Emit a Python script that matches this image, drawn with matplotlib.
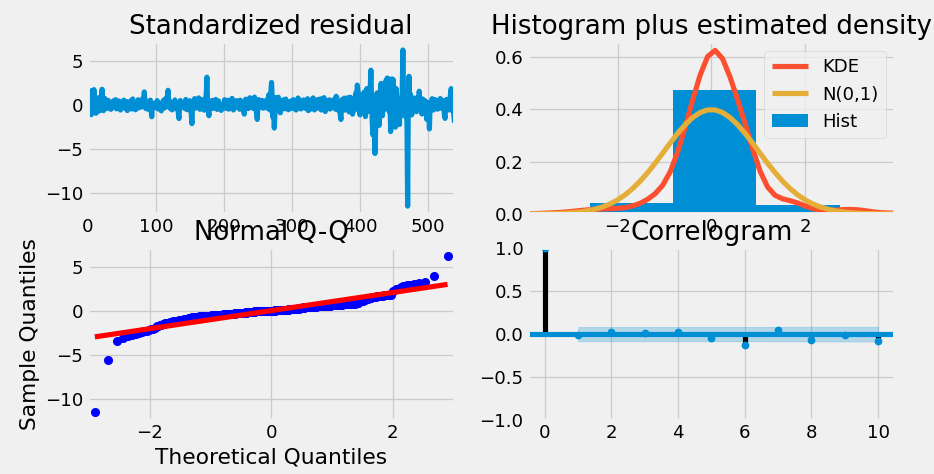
import numpy as np
import matplotlib
matplotlib.use("Agg")
import matplotlib.pyplot as plt
from statistics import NormalDist

# standardized residuals (index 0..539)
std_resid = [
    0.62, -1.02, 1.45, -0.35, 0.18, -1.08, 1.68, 0.41, -0.58, 1.78, -0.12, 0.47, -0.92, 0.85, 0.05, -0.44, 0.71, -0.66, 0.93, 0.08,
    -0.31, 1.82, 0.06, -0.62, 0.14, 0.78, -0.09, 0.05, -0.38, 0.02, 0.56, -0.18, 0.27, 0.11, -0.47, 0.33, 0.21, -0.06, 0.52, -0.24,
    0.15, 0.64, -0.41, 0.07, -0.01, -0.21, 0.48, -0.03, -0.55, 0.19, 0.08, -0.14, 0.04, 0.59, -0.33, 0.12, -0.08, 0.42, -0.61, 0.23,
    0.01, -0.12, 0.06, 0.51, -0.44, 0.17, 0.72, -0.26, -0.02, 0.09, -0.52, 0.22, 0.09, -0.35, 0.63, 0.13, -0.05, 0.04, -0.23, 0.46,
    0.08, 0.81, -0.15, 1.52, 0.24, -0.37, 0.49, -0.01, -0.46, 0.02, 0.16, -0.22, 0.58, -0.57, -1.31, 0.26, 0.03, -0.11, 0.03, 0.05,
    -0.27, 0.14, 0.53, -0.43, 0.06, 0.25, -0.16, -0.04, -0.64, 0.00, -0.04, 0.55, -0.34, 0.10, 0.74, -0.20, 0.10, 1.12, 1.71, 0.18,
    0.50, -0.36, 0.23, 0.02, -0.53, 0.01, 0.12, -0.25, 0.61, -0.07, 0.02, -0.45, 0.16, -0.88, -1.52, 0.28, 0.54, -0.13, 0.07, -0.03,
    -0.24, 0.03, 0.15, -0.39, 0.66, 0.04, -0.51, 0.27, 0.06, -0.10, 0.52, -0.42, -0.98, -2.10, 0.13, 0.47, -0.28, 0.76, 0.06, -0.33,
    0.26, 0.57, -0.17, 0.84, 0.33, -0.47, 0.11, 0.65, -0.23, 0.03, 0.42, -0.56, 0.20, 0.73, 1.18, 3.20, 0.35, -0.68, -1.20, 0.14,
    0.45, -0.26, 0.05, 0.55, -0.37, 0.18, 0.08, -0.15, 0.67, -0.02, -0.48, 0.24, 0.50, -0.30, 0.10, 0.04, -0.59, 0.08, -0.01, -0.19,
    0.22, 0.63, -0.35, 0.13, 0.06, -0.08, 0.57, -0.45, 0.25, 0.01, 0.06, -0.27, 0.78, 0.09, -0.54, -0.09, 0.48, -0.16, 0.15, 0.52,
    -0.25, 0.07, 0.07, -0.46, 0.58, 0.16, -0.14, -0.03, -0.03, -0.66, -1.01, 0.26, 0.69, -0.29, 0.12, 0.45, -0.38, 0.04, 0.86, 0.21,
    -0.17, 0.47, 0.24, -0.36, 0.54, 0.93, 0.11, -0.44, -0.87, -1.62, 0.04, 0.64, -0.12, 0.06, 0.01, -0.26, 0.56, 0.17, -0.34, 0.23,
    0.44, -0.24, 0.14, 0.62, -0.35, 0.32, 1.21, 0.22, -0.57, 1.58, 2.60, 0.77, -1.38, -0.43, -2.60, -1.08, 0.88, 0.74, -0.53, 0.70,
    0.92, -0.63, 0.05, -0.86, 0.53, 0.16, -0.33, 0.61, 0.05, -0.42, -0.03, 0.71, -0.18, 0.44, -0.01, -0.52, 0.06, 0.13, -0.23, 0.49,
    0.14, -0.36, 0.64, 0.26, -0.16, 0.06, -0.55, 0.07, -0.07, 0.83, -0.25, 0.16, 0.51, -0.43, -0.04, 0.07, -0.13, 0.61, 0.06, -0.34,
    0.02, 0.15, -0.24, 0.75, -0.62, 0.27, 0.04, -0.45, 0.54, 0.18, -0.14, 0.84, 0.05, -0.54, 0.23, -0.02, 0.05, -0.35, 0.66, 0.12,
    -0.22, 0.04, 0.73, -0.55, 0.13, -0.04, -0.15, 0.87, 0.05, -0.72, 0.24, 0.53, -0.36, 0.17, -0.03, 0.62, -0.44, 0.28, 0.06, -0.16,
    0.52, -0.26, 0.16, 0.74, -0.46, 1.02, 0.85, -0.14, 0.25, -0.65, 0.43, -1.12, -1.63, 0.35, 0.66, -0.25, 0.07, 0.82, -0.56, 0.26,
    0.46, -0.35, 0.86, 0.14, -0.76, 0.55, 0.91, -0.24, 0.36, -1.02, 0.64, 0.06, -0.57, 0.76, 1.42, 0.27, 2.30, 1.60, -0.45, 0.53,
    -1.10, 0.35, 1.20, -0.55, 0.74, -0.26, 1.50, 0.15, -1.30, 0.66, 1.90, -0.74, 0.45, 1.30, -0.36, 1.80, 4.00, 0.56, -1.90, -3.40,
    -2.40, -1.00, -5.50, -2.80, 0.45, 1.40, -0.66, 0.84, -2.30, 0.26, 1.80, 2.50, 0.36, -1.20, 0.75, 1.70, -0.46, 1.90, 2.80, 0.93,
    3.10, 0.56, 3.00, -0.75, 0.82, -3.00, 0.16, 3.00, 0.86, 2.90, -0.64, 0.68, -2.50, 1.90, -1.40, 0.42, -0.55, 0.73, -2.20, 0.46,
    -0.90, 0.76, 1.50, 6.30, 0.35, -1.20, 0.87, -0.46, 0.64, -2.00, -11.50, 0.85, 3.30, -0.53, 1.30, 0.15, -1.10, 0.54, -0.24, 0.83,
    -0.35, 0.63, 0.14, -0.74, 0.88, 0.24, -0.45, 1.60, 0.05, -0.56, 0.04, -1.00, 0.72, 0.13, -0.35, 0.55, -0.63, 0.25, -1.60, 0.34,
    0.13, -0.88, -2.70, 0.04, 0.23, -0.34, 0.75, 0.04, -0.55, 0.03, 0.65, -0.23, 0.12, -0.06, -0.45, 0.53, -0.13, 0.24, 0.77, -0.33,
    0.25, 0.55, -0.24, 0.14, -1.10, -1.50, 0.45, 0.66, -0.13, 0.34, 0.03, -0.54, 0.76, 1.20, 1.90, 0.23, -0.65, 0.44, -1.30, -2.00,
]

# correlogram (lags 0..10)
acf_lags = [0, 1, 2, 3, 4, 5, 6, 7, 8, 9, 10]
acf_values = [1.0, -0.01, 0.02, 0.01, 0.02, -0.05, -0.13, 0.05, -0.07, -0.005, -0.085]

plt.style.use('fivethirtyeight')

resid = np.array(std_resid)
n = len(resid)
x_idx = np.arange(n)

fig = plt.figure(figsize=(934 / 93, 474 / 93), dpi=93)
fig.subplots_adjust(left=0.094, right=0.958, bottom=0.114, top=0.911,
                    wspace=0.2, hspace=0.2)

# --- standardized residual
ax = fig.add_subplot(221)
ax.plot(x_idx, resid, color='#008fd5')
ax.hlines(0, x_idx[0], x_idx[-1], colors='#008fd5', alpha=0.5)
ax.set_xlim(x_idx[0], x_idx[-1])
ax.set_title('Standardized residual')

# --- histogram plus kde
ax = fig.add_subplot(222)
ax.hist(resid, density=True, label='Hist', color='#008fd5')
xlim = (-1.96 * 2, 1.96 * 2)
xs = np.linspace(xlim[0], xlim[1])
bw = resid.std(ddof=1) * n ** (-1 / 5)  # scott's rule, like gaussian_kde
kde = np.exp(-0.5 * ((xs[:, None] - resid[None, :]) / bw) ** 2).sum(axis=1)
kde = kde / (n * bw * np.sqrt(2 * np.pi))
ax.plot(xs, kde, label='KDE', color='#fc4f30')
ax.plot(xs, np.exp(-xs ** 2 / 2) / np.sqrt(2 * np.pi), label='N(0,1)', color='#e5ae38')
ax.set_xlim(xlim)
handles, labels = ax.get_legend_handles_labels()
order = [labels.index('KDE'), labels.index('N(0,1)'), labels.index('Hist')]
ax.legend([handles[i] for i in order], [labels[i] for i in order])
ax.set_title('Histogram plus estimated density')

# --- normal q-q
ax = fig.add_subplot(223)
sample = np.sort(resid)
nd = NormalDist()
theo = np.array([nd.inv_cdf(i / (n + 1)) for i in range(1, n + 1)])
ax.plot(theo, sample, 'bo')
ax.plot(theo, theo * sample.std() + sample.mean(), 'r-')
ax.set_xmargin(0.02)
ax.autoscale_view()
ax.set_xticks([-2, 0, 2])
ax.set_xlabel('Theoretical Quantiles')
ax.set_ylabel('Sample Quantiles')
ax.set_title('Normal Q-Q')

# --- correlogram
ax = fig.add_subplot(224)
lags = np.array(acf_lags)
acf = np.array(acf_values)
ax.vlines(lags, [0], acf, colors='k')
ax.axhline(color='#008fd5')
ax.plot(lags, acf, marker='o', markersize=5, linestyle='None', color='#008fd5')
ax.margins(.05)
# bartlett band
varacf = np.ones(len(acf)) / n
varacf[0] = 0
varacf[2:] *= 1 + 2 * np.cumsum(acf[1:-1] ** 2)
band = 1.96 * np.sqrt(varacf)
ax.fill_between(lags[1:], -band[1:], band[1:], alpha=.25, color='#008fd5')
ax.set_ylim(-1, 1)
ax.set_title('Correlogram')

fig.savefig('out.png', dpi=93)
